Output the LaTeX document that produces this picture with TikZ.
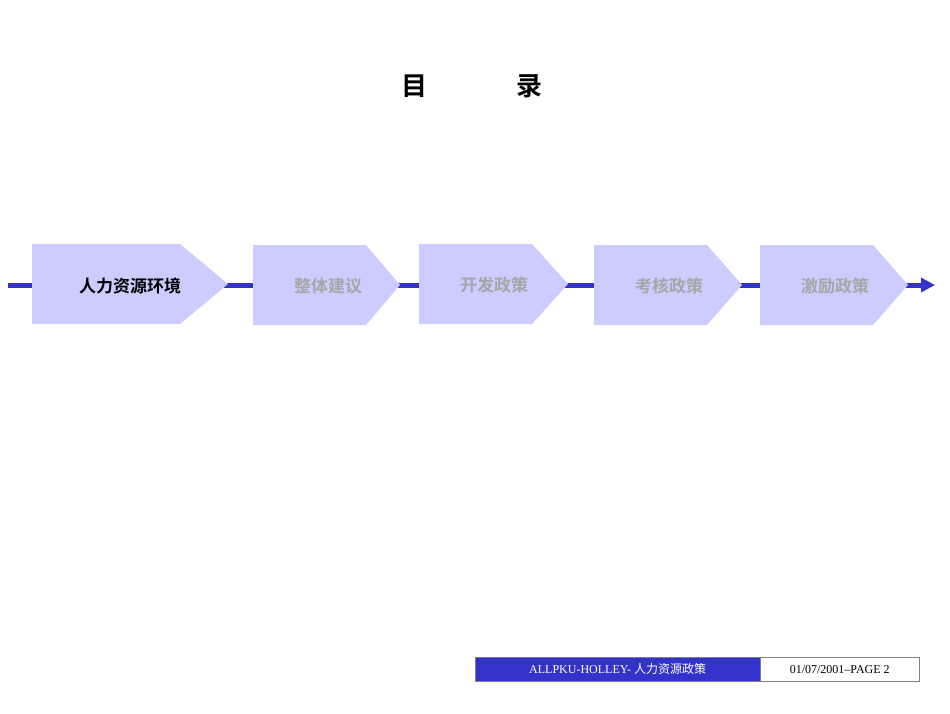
\documentclass[tikz,border=0pt]{standalone}
\usepackage{fontspec}
\setmainfont{Liberation Serif}
\newfontfamily\cjk{Noto Sans CJK SC}
\newfontfamily\cjkb{Noto Sans CJK SC Bold}
\usetikzlibrary{arrows.meta}
\definecolor{lineblue}{HTML}{3333CC}
\definecolor{chev}{HTML}{CCCCFF}
\definecolor{greytxt}{HTML}{A6A6A6}
\tikzset{chevron/.style={fill=chev,draw=none},
 lbl/.style={font=\cjkb\fontsize{17}{20}\selectfont,text=greytxt,anchor=center},
 flow/.style={draw=lineblue,line width=5pt}}
\begin{document}
\begin{tikzpicture}[x=1pt,y=-1pt]
\useasboundingbox (0,0) rectangle (950,713);
\node (title) at (472,86) {\cjkb\fontsize{26}{30}\selectfont 目\hspace{3.4em}录};
\coordinate (s) at (8,285);
\coordinate (e) at (935,285);
\draw[flow,-{Triangle[length=14pt,width=14pt]}] (s) -- (e);
\fill[chevron] (32,244) -- (180,244) -- (228,284) -- (180,324) -- (32,324) -- cycle;
\fill[chevron] (253,245) -- (366,245) -- (400,285) -- (366,325) -- (253,325) -- cycle;
\fill[chevron] (419,244) -- (532,244) -- (568,284) -- (532,324) -- (419,324) -- cycle;
\fill[chevron] (594,245) -- (707,245) -- (742,285) -- (707,325) -- (594,325) -- cycle;
\fill[chevron] (760,245) -- (873,245) -- (908,285) -- (873,325) -- (760,325) -- cycle;
\node[lbl,text=black] (a) at (130,286) {人力资源环境};
\node[lbl] (b) at (328,286) {整体建议};
\node[lbl] (c) at (494,285) {开发政策};
\node[lbl] (d) at (669,286) {考核政策};
\node[lbl] (f) at (835,286) {激励政策};
\node[fill=lineblue,draw=gray,minimum width=285pt,minimum height=24pt,inner sep=0,anchor=north west,text=white,font=\fontsize{12}{14}\selectfont] (fl) at (475,657) {ALLPKU-HOLLEY- {\cjk 人力资源政策}};
\node[fill=white,draw=gray,minimum width=159pt,minimum height=24pt,inner sep=0,anchor=north west,font=\fontsize{12}{14}\selectfont] (fr) at (760,657) {01/07/2001--PAGE 2};
\end{tikzpicture}
\end{document}
